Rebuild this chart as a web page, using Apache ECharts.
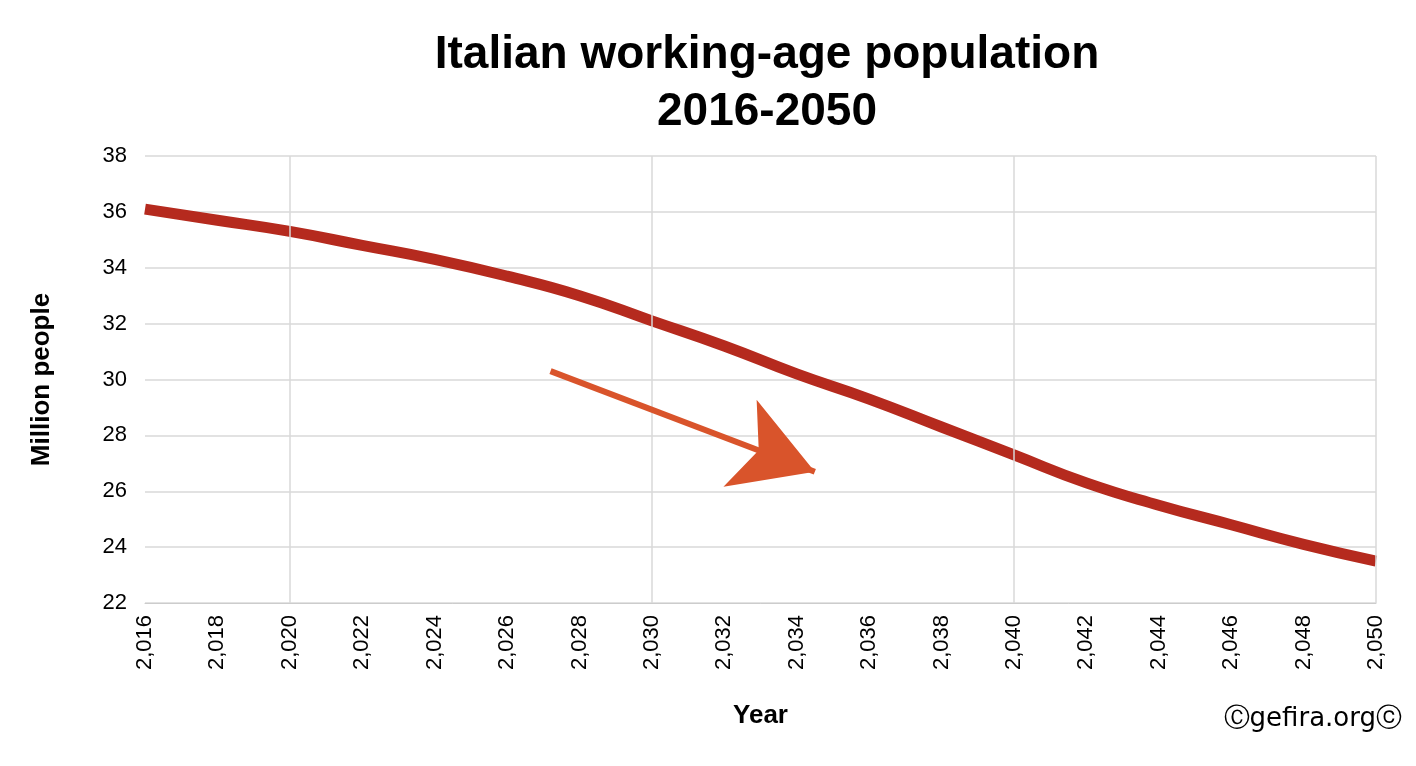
<!DOCTYPE html>
<html>
<head>
<meta charset="utf-8">
<script src="https://cdn.jsdelivr.net/npm/echarts@6/dist/echarts.min.js"></script>
<style>html,body{margin:0;background:#fff}#c{width:1416px;height:766px}</style>
</head>
<body>
<div id="c"></div>
<script>
// working-age population, million people
const years = [2016, 2018, 2020, 2022, 2024, 2026, 2028, 2030, 2032, 2034, 2036, 2038, 2040, 2042, 2044, 2046, 2048, 2050];
const population = [36.1, 35.7, 35.3, 34.8, 34.3, 33.7, 33.0, 32.1, 31.2, 30.2, 29.3, 28.3, 27.3, 26.3, 25.5, 24.8, 24.1, 23.5];
const gridYears = [2020, 2030, 2040, 2050];
const arrowFrom = [2027.2, 30.3];
const arrowTo = [2034.5, 26.7];

const chart = echarts.init(document.getElementById('c'));
chart.setOption({
  animation: false,
  title: {
    text: 'Italian working-age population\n2016-2050',
    left: 762, top: 22, textAlign: 'center',
    textStyle: { fontFamily: 'Liberation Sans', fontWeight: 'bold', fontSize: 46, lineHeight: 57, color: '#000' }
  },
  grid: { left: 145, right: 40, top: 156, bottom: 163 },
  xAxis: {
    type: 'value', min: 2016, max: 2050, interval: 2,
    name: 'Year', nameLocation: 'middle', nameGap: 100,
    nameTextStyle: { fontFamily: 'Liberation Sans', fontWeight: 'bold', fontSize: 26, color: '#000' },
    axisLine: { lineStyle: { color: '#ccc' } },
    axisTick: { show: false },
    axisLabel: { rotate: 90, fontFamily: 'Liberation Sans', fontSize: 22, color: '#000', margin: 12 },
    splitLine: { show: false }
  },
  yAxis: {
    type: 'value', min: 22, max: 38, interval: 2,
    name: 'Million people', nameLocation: 'middle', nameGap: 90,
    nameTextStyle: { fontFamily: 'Liberation Sans', fontWeight: 'bold', fontSize: 26, color: '#000' },
    axisLine: { show: false }, axisTick: { show: false },
    axisLabel: { fontFamily: 'Liberation Sans', fontSize: 22, color: '#000', margin: 18 },
    splitLine: { lineStyle: { color: '#d9d9d9', width: 1.5 } }
  },
  series: [{
    type: 'line', smooth: true, showSymbol: false,
    data: years.map((y, i) => [y, population[i]]),
    lineStyle: { color: '#b52a1e', width: 11 },
    markLine: {
      silent: true, symbol: 'none', label: { show: false },
      lineStyle: { color: '#d9d9d9', width: 1.5, type: 'solid' },
      data: gridYears.map(y => ({ xAxis: y }))
    }
  }, {
    type: 'line', data: [],
    markLine: {
      silent: true, symbol: ['none', 'arrow'], symbolSize: [70, 80], label: { show: false },
      lineStyle: { color: '#d9542b', width: 6, type: 'solid' },
      data: [[{ coord: arrowFrom }, { coord: arrowTo }]]
    }
  }],
  graphic: [{
    type: 'text', right: 14, top: 706,
    style: { text: 'Ⓒgefira.orgⓒ', fontFamily: 'DejaVu Sans', fontSize: 26, fill: '#000' }
  }]
});
</script>
</body>
</html>
